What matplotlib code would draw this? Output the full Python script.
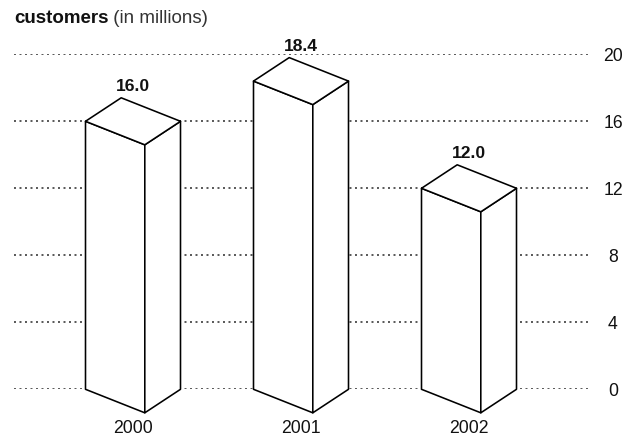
import matplotlib
matplotlib.use("Agg")
import matplotlib.pyplot as plt
from matplotlib.patches import Polygon

# ---- data ----
years = ["2000", "2001", "2002"]
customers = [16.0, 18.4, 12.0]
value_labels = ["16.0", "18.4", "12.0"]
yticks = [0, 4, 8, 12, 16, 20]
ytick_labels = ["0", "4", "8", "12", "16", "20"]
title_bold = "customers"
title_rest = " (in millions)"

W, H, DPI = 642, 438, 100
fig = plt.figure(figsize=(W / DPI, H / DPI), dpi=DPI)
fig.patch.set_facecolor("white")

NARROW = ["Liberation Sans Narrow", "DejaVu Sans Condensed", "Liberation Sans"]

# axes in pixel placement
ax_left_px, ax_right_px = 14, 588
y0_px, y20_px = 389.3, 54.3
ax = fig.add_axes([ax_left_px / W, (H - y0_px) / H,
                   (ax_right_px - ax_left_px) / W, (y0_px - y20_px) / H])
ax.set_facecolor("none")

px_per_unit_x = 168.0
center0_px = 133.0
ax.set_xlim(-(center0_px - ax_left_px) / px_per_unit_x,
            (ax_right_px - center0_px) / px_per_unit_x)
ax.set_ylim(0, 20)

for s in ax.spines.values():
    s.set_visible(False)
ax.set_xticks([])

# grid lines (dotted)
for t in yticks:
    ax.axhline(t, color="#2a2a2a", lw=1.1, ls=(0, (1.3, 2.3)), zorder=1)

# box geometry (style constants)
half_w = 47.5 / px_per_unit_x       # half horizontal width of the box
front_off = 59.3 / px_per_unit_x    # front corner offset from left corner
depth_dy = 23.5 / ((y0_px - y20_px) / 20.0)  # vertical offset of iso depth

edge_kw = dict(facecolor="white", edgecolor="black", lw=1.15,
               joinstyle="round", zorder=3, clip_on=False)

for i, v in enumerate(customers):
    xl = i - half_w
    xr = i + half_w
    xf = xl + front_off
    xb = xl + (xr - xf)
    LB, FB, RB = (xl, 0), (xf, -depth_dy), (xr, 0)
    LT, FT, RT, BT = (xl, v), (xf, v - depth_dy), (xr, v), (xb, v + depth_dy)
    ax.add_patch(Polygon([LB, FB, FT, LT], closed=True, **edge_kw))
    ax.add_patch(Polygon([FB, RB, RT, FT], closed=True, **edge_kw))
    ax.add_patch(Polygon([LT, FT, RT, BT], closed=True, **edge_kw))
    # value label above box
    ax.annotate(value_labels[i], xy=(i, v + depth_dy), xytext=(0, 6.5),
                textcoords="offset pixels", ha="center", va="baseline",
                fontsize=12.6, fontweight="bold", family="Liberation Sans",
                color="#111111", annotation_clip=False)
    # year label below box
    ax.annotate(years[i], xy=(i, -depth_dy), xytext=(0, -7),
                textcoords="offset pixels", ha="center", va="top",
                fontsize=12.7, family=NARROW,
                color="#111111", annotation_clip=False)

# right-hand tick labels
ax.yaxis.tick_right()
ax.set_yticks(yticks)
ax.set_yticklabels(ytick_labels, family=NARROW, fontsize=12.7, color="#111111")
ax.tick_params(axis="y", length=0, pad=(613 - ax_right_px) * 72 / DPI)
for lab in ax.get_yticklabels():
    lab.set_ha("center")

# title
t1 = fig.text(14 / W, (H - 23) / H, title_bold, fontsize=13.5,
              fontweight="bold", family="Liberation Sans", color="#111111",
              ha="left", va="baseline")
r = fig.canvas.get_renderer()
bb = t1.get_window_extent(renderer=r)
fig.text(bb.x1 / W, (H - 23) / H, title_rest, fontsize=13.5,
         family="Liberation Sans", color="#333333", ha="left", va="baseline")

fig.savefig("out.png", dpi=DPI)
